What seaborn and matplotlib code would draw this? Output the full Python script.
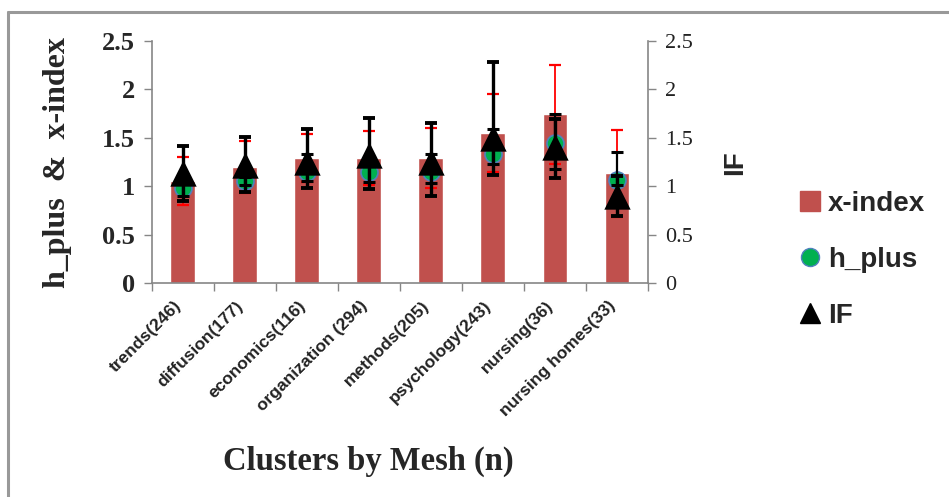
import numpy as np
import pandas as pd
import matplotlib
matplotlib.use("Agg")
import matplotlib.pyplot as plt
import matplotlib.transforms as mtransforms
from matplotlib.lines import Line2D
import seaborn as sns

categories = ["trends(246)", "diffusion(177)", "economics(116)", "organization (294)",
              "methods(205)", "psychology(243)", "nursing(36)", "nursing homes(33)"]
x_index = [1.05, 1.20, 1.29, 1.29, 1.29, 1.55, 1.74, 1.13]
x_index_err = [0.25, 0.27, 0.25, 0.28, 0.31, 0.40, 0.51, 0.45]
h_plus = [0.98, 1.05, 1.15, 1.15, 1.15, 1.33, 1.44, 1.06]
h_plus_err_lo = [0.08, 0.04, 0.10, 0.105, 0.12, 0.10, 0.26, 0.05]
h_plus_err_hi = [0.08, 0.04, 0.18, 0.10, 0.18, 0.26, 0.30, 0.29]
IF = [1.13, 1.22, 1.25, 1.32, 1.25, 1.50, 1.40, 0.90]
IF_err_lo = [0.28, 0.28, 0.27, 0.35, 0.35, 0.39, 0.32, 0.21]
IF_err_hi = [0.28, 0.29, 0.34, 0.38, 0.40, 0.78, 0.29, 0.20]
yticks = [0, 0.5, 1, 1.5, 2, 2.5]
ytick_labels = ["0", "0.5", "1", "1.5", "2", "2.5"]

sns.set_theme(style="white")
plt.rcParams['font.family'] = ['Liberation Sans', 'DejaVu Sans']

W, H = 949, 497
fig = plt.figure(figsize=(W / 100, H / 100), dpi=100)
ax = fig.add_axes([151.7 / W, 1 - 283 / H, (648 - 151.7) / W, (283 - 40.7) / H])

df = pd.DataFrame({"cat": categories, "x_index": x_index, "h_plus": h_plus, "IF": IF})
pos = np.arange(len(categories))

bar_color = "#C0504D"
sns.barplot(data=df, x="cat", y="x_index", color=bar_color, width=0.4,
            saturation=1, ax=ax, zorder=2)
ax.errorbar(pos, x_index, yerr=x_index_err, fmt="none", ecolor="#FF0000",
            elinewidth=1.3, capsize=4, capthick=1.6, zorder=3)
sns.scatterplot(x=pos, y=h_plus, ax=ax, color="#00B050", edgecolor="#4F81BD",
                linewidth=1.2, s=150, zorder=4, legend=False)
ax.errorbar(pos, h_plus, yerr=[h_plus_err_lo, h_plus_err_hi], fmt="none",
            ecolor="black", elinewidth=1.6, capsize=4, capthick=2.2, zorder=5)

ax2 = ax.twinx()
ax2.set_ylim(0, 2.5)
sns.scatterplot(x=pos, y=IF, ax=ax2, color="black", marker="^", s=360,
                edgecolor="black", linewidth=0, zorder=4, legend=False)
ax2.errorbar(pos, IF, yerr=[IF_err_lo, IF_err_hi], fmt="none", ecolor="black",
             elinewidth=2.4, capsize=4.5, capthick=2.8, zorder=5)
ax2.set_yticks(yticks)
ax2.set_yticklabels(ytick_labels, family=["Liberation Serif"], fontsize=16, color="#222222")
ax2.tick_params(axis="y", length=6, width=1, color="#868686", direction="out", right=True, pad=6)
ax2.set_ylabel("")
for s in ["top", "left", "bottom"]:
    ax2.spines[s].set_visible(False)
ax2.spines["right"].set_color("#868686")
ax2.spines["right"].set_linewidth(1.2)

ax.set_xlim(-0.5, len(categories) - 0.5)
ax.set_ylim(0, 2.5)
ax.set_yticks(yticks)
ax.set_yticklabels(ytick_labels, family=["Liberation Serif"], fontweight="bold", fontsize=19)
ax.set_xticks(np.arange(-0.5, len(categories)), minor=True)
ax.set_xticks(pos)
ax.tick_params(axis="x", which="major", length=0, pad=11)
ax.tick_params(axis="x", which="minor", length=6, width=1, color="#868686", direction="out", bottom=True)
ax.tick_params(axis="y", length=6, width=1, color="#868686", direction="out", left=True, pad=6)
ax.set_xticklabels(categories, rotation=45, ha="right", rotation_mode="anchor",
                   fontsize=12.5, fontweight="bold", color="#222222")
offset = mtransforms.ScaledTranslation(-9 / 100, 0, fig.dpi_scale_trans)
for lbl in ax.get_xticklabels():
    lbl.set_transform(lbl.get_transform() + offset)
ax.set_xlabel("")
ax.set_ylabel("")
for s in ["top", "right"]:
    ax.spines[s].set_visible(False)
for s in ["left", "bottom"]:
    ax.spines[s].set_color("#868686")
    ax.spines[s].set_linewidth(1.2)

fig.text(58 / W, 1 - 163 / H, "h_plus  &  x-index", rotation=90, ha="center", va="center",
         family=["Liberation Serif"], fontweight="bold", fontsize=23)
fig.text(735 / W, 1 - 163 / H, "IF", rotation=90, ha="center", va="center",
         fontweight="bold", fontsize=20)
fig.text(368 / W, 1 - 461 / H, "Clusters by Mesh (n)", ha="center", va="center",
         family=["Liberation Serif"], fontweight="bold", fontsize=23.5)

handles = [
    Line2D([], [], marker="s", color=bar_color, linestyle="none", markersize=14),
    Line2D([], [], marker="o", markerfacecolor="#00B050", markeredgecolor="#4F81BD",
           linestyle="none", markersize=13),
    Line2D([], [], marker="^", color="black", linestyle="none", markersize=14),
]
leg = fig.legend(handles, ["x-index", "h_plus", "IF"], loc="upper left",
                 bbox_to_anchor=(785 / W, 1 - 180 / H), frameon=False,
                 prop={"weight": "bold", "size": 20}, labelspacing=1.08,
                 handletextpad=0.15, handlelength=1.0, borderaxespad=0)

fig.add_artist(Line2D([8 / W, 8 / W], [0, 1 - 12 / H], color="#999999", lw=2.2,
                      transform=fig.transFigure))
fig.add_artist(Line2D([8 / W, 1], [1 - 12 / H, 1 - 12 / H], color="#999999", lw=2.2,
                      transform=fig.transFigure))

fig.savefig("out.png", dpi=100, facecolor="white")
